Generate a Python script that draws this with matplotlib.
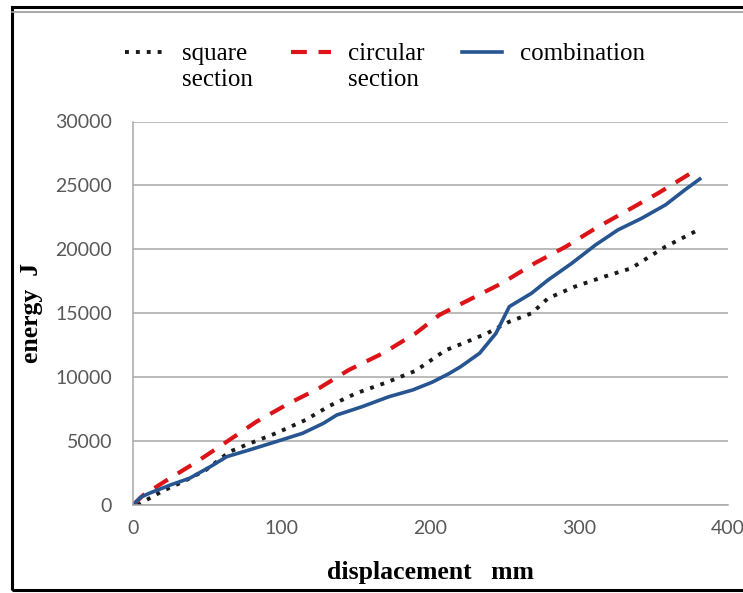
"""Energy vs displacement for three crush-tube sections."""

import matplotlib

matplotlib.use("Agg")
import matplotlib.pyplot as plt
import numpy as np
from matplotlib.lines import Line2D
from matplotlib.patches import Rectangle

# data (mm, J)
square_x = [3, 7, 20, 35, 49, 65, 76, 96, 116, 132, 150, 170, 190, 200, 210,
            224, 238, 253, 268, 279, 297, 317, 335, 349, 358, 378]
square_y = [0, 260, 1100, 1900, 2740, 4170, 4700, 5610, 6650, 7750, 8740, 9570,
            10500, 11300, 12100, 12750, 13430, 14340, 15000, 16170, 17080, 17870,
            18520, 19560, 20210, 21400]

circular_x = [0, 7, 23, 43, 63, 83, 105, 125, 145, 168, 190, 206, 228, 248, 270,
              291, 311, 333, 353, 375, 379]
circular_y = [0, 780, 1960, 3390, 4950, 6520, 7960, 9130, 10560, 11870, 13430,
              14870, 16170, 17350, 18910, 20210, 21650, 23080, 24390, 25960, 26150]

combo_x = [0, 5, 11, 25, 38, 52, 63, 78, 96, 114, 128, 137, 154, 172, 188, 201,
           212, 220, 233, 244, 253, 268, 279, 295, 311, 326, 342, 358, 371, 381]
combo_y = [0, 600, 920, 1560, 2090, 3000, 3780, 4300, 4950, 5610, 6390, 7040,
           7690, 8470, 9000, 9600, 10250, 10800, 11870, 13430, 15520, 16570,
           17600, 18910, 20350, 21520, 22430, 23480, 24650, 25500]

labels = ["square\nsection", "circular\nsection", "combination\n "]
x_ticks = [0, 100, 200, 300, 400]
y_ticks = [0, 5000, 10000, 15000, 20000, 25000, 30000]

W, H = 743, 593
fig = plt.figure(figsize=(W / 100, H / 100), dpi=100)
ax = fig.add_axes([133 / W, 1 - 505 / H, (728 - 133) / W, (505 - 121.5) / H])

l1, = ax.plot(square_x, square_y, color="#1a1a1a", lw=2.8, dashes=(1, 1.8))
l2, = ax.plot(circular_x, circular_y, color="#dc1418", lw=3.0, dashes=(3.8, 2.8))
l3, = ax.plot(combo_x, combo_y, color="#265592", lw=2.6)

ax.set_xlim(0, 400)
ax.set_ylim(0, 30000)
ax.set_xticks(x_ticks)
ax.set_yticks(y_ticks)
ax.yaxis.grid(True, color="#a8a8a8", lw=1.1)
ax.set_axisbelow(True)
for s in ("top", "right"):
    ax.spines[s].set_visible(False)
for s in ("left", "bottom"):
    ax.spines[s].set_color("#a8a8a8")
    ax.spines[s].set_linewidth(1.1)
ax.tick_params(length=0, labelsize=14, labelcolor="#595959")
ax.tick_params(axis="x", pad=11)
ax.tick_params(axis="y", pad=15)
for t in ax.get_xticklabels() + ax.get_yticklabels():
    t.set_family("Lato")

ax.set_xlabel("displacement   mm", family="Liberation Serif", weight="bold",
              fontsize=18.5, labelpad=17)
ax.set_ylabel("energy  J", family="Liberation Serif", weight="bold",
              fontsize=18.5)
ax.yaxis.set_label_coords(-0.151, 0.5)

fs = 18
leg = fig.legend([l1, l2, l3], labels, loc="upper center", ncol=3,
                 bbox_to_anchor=(0.518, 0.965), frameon=False,
                 prop={"family": "Liberation Serif", "size": fs},
                 handlelength=1.6, handletextpad=0.7, columnspacing=1.5)
# keep the handles level with the first text line
for ln in leg.get_lines():
    ln.set_ydata(np.asarray(ln.get_ydata()) + 0.6 * fs)

# outer frame of the pasted picture
fig.add_artist(Rectangle((12 / W, 3 / H), 1.2, 1 - 10 / H, transform=fig.transFigure,
                         fill=False, edgecolor="black", lw=2.2, clip_on=False))
fig.add_artist(Line2D([12 / W, 1], [1 - 12 / H] * 2, transform=fig.transFigure,
                      color="#9a9a9a", lw=1.2))

fig.savefig("out.png", dpi=100)
